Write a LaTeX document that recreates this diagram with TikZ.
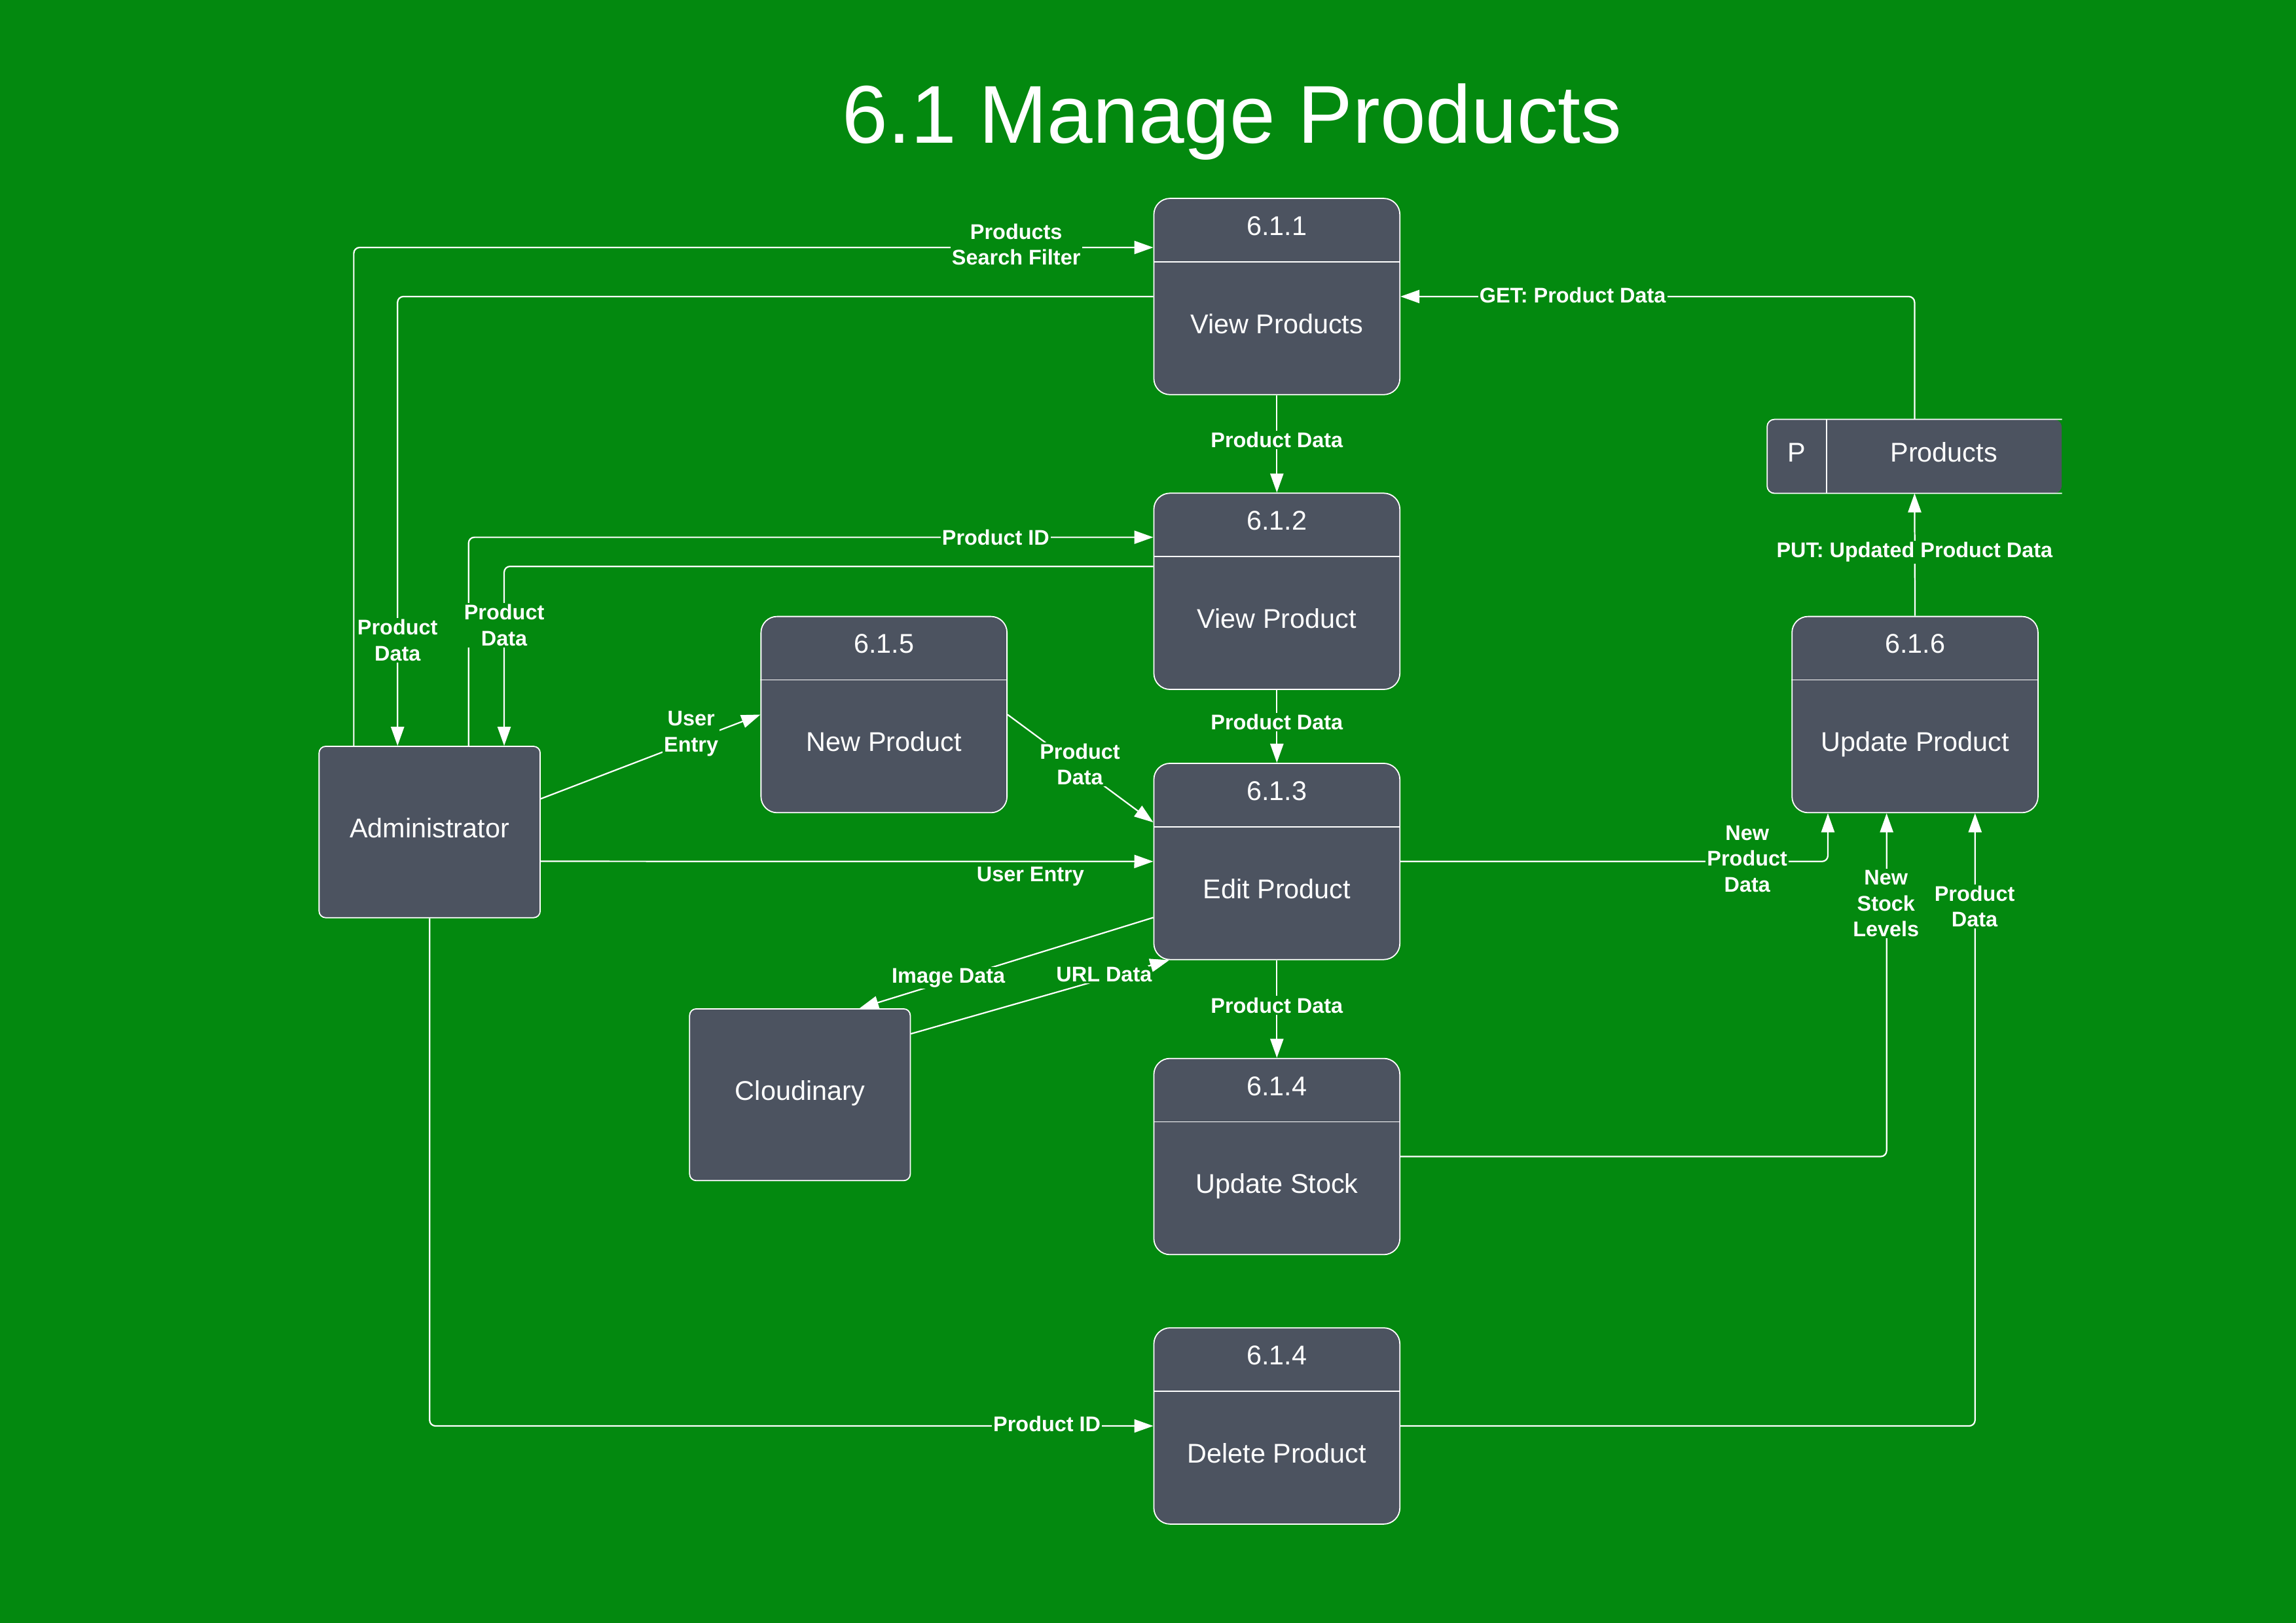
\documentclass[tikz,border=0pt]{standalone}
\usepackage{fontspec}
\setmainfont{Liberation Sans}
\usetikzlibrary{arrows.meta,calc}
\definecolor{bggreen}{RGB}{3,137,15}
\definecolor{boxgray}{RGB}{76,83,96}
\newcommand{\mkproc}[4]{%
  \node[proc] (#1) at (#2) {};
  \draw[divline] ([yshift=-43.7pt]#1.north west) -- ([yshift=-43.7pt]#1.north east);
  \node[boxtxt] (#1num) at ([yshift=-21.85pt]#1.north) {#3};
  \node[boxtxt] (#1name) at ([yshift=-88.85pt]#1.north) {#4};
}
\begin{document}
\begin{tikzpicture}[x=1pt,y=-1pt,
  proc/.style={draw=white, line width=0.8pt, fill=boxgray, rounded corners=11pt,
    minimum width=168pt, minimum height=134pt, inner sep=0pt},
  ext/.style={draw=white, line width=0.8pt, fill=boxgray, rounded corners=4.5pt,
    minimum width=151pt, minimum height=117pt, inner sep=0pt},
  storebox/.style={fill=boxgray, rounded corners=5pt, minimum width=201pt,
    minimum height=50.1pt, inner sep=0pt},
  divline/.style={draw=white, line width=0.8pt},
  boxtxt/.style={text=white, font=\fontsize{18.5}{22}\selectfont, inner sep=0pt,
    text height=0.95em, text depth=0.2em},
  titletxt/.style={text=white, font=\fontsize{56}{60}\selectfont, inner sep=0pt},
  flow/.style={draw=white, line width=1pt, rounded corners=4pt},
  arr/.style={flow, -{Triangle[length=13pt,width=9pt]}},
  lbl/.style={text=white, fill=bggreen, font=\bfseries\fontsize{14.5}{17.6}\selectfont,
    align=center, inner sep=1pt},
]
\fill[bggreen] (0,0) rectangle (1568,1108.37);
\useasboundingbox (0,0) rectangle (1568,1108.37);

\node[titletxt, anchor=base] (title) at (841.5,97.5) {6.1 Manage Products};

% processes
\mkproc{p611}{872,202.5}{6.1.1}{View Products}
\mkproc{p612}{872,403.8}{6.1.2}{View Product}
\mkproc{p613}{872,588.3}{6.1.3}{Edit Product}
\mkproc{p614}{872,789.8}{6.1.4}{Update Stock}
\mkproc{p614d}{872,973.8}{6.1.4}{Delete Product}
\mkproc{p615}{603.7,488}{6.1.5}{New Product}
\mkproc{p616}{1307.8,488}{6.1.6}{Update Product}

% external entities
\node[ext, boxtxt, minimum width=151pt, minimum height=117pt] (admin) at (293.4,568.2) {Administrator};
\node[ext, boxtxt, minimum width=150.7pt, minimum height=117.3pt] (cloud) at (546.3,747.6) {Cloudinary};

% data store
\node[storebox] (store) at (1307.5,311.65) {};
\draw[divline, rounded corners=5pt] (store.north east) -- (store.north west) -- (store.south west) -- (store.south east);
\draw[divline] ([xshift=40.5pt]store.north west) -- ([xshift=40.5pt]store.south west);
\node[boxtxt] (storeid) at ([xshift=20.25pt]store.west) {P};
\node[boxtxt] (storename) at ([xshift=120.75pt]store.west) {Products};

% helper coordinates
\coordinate (urlS) at ([yshift=41.6pt]cloud.east);
\coordinate (urlT) at ([xshift=10.8pt]p613.south west);

% connectors
\draw[arr] ([xshift=-51.8pt]admin.north) |- ([yshift=33.5pt]p611.west);
\draw[arr] (p611.west) -| ([xshift=-21.9pt]admin.north);
\draw[arr] ([xshift=26.6pt]admin.north) |- ([yshift=36.9pt]p612.west);
\draw[arr] ([yshift=17pt]p612.west) -| ([xshift=50.9pt]admin.north);
\draw[arr] (p611.south) -- (p612.north);
\draw[arr] (p612.south) -- (p613.north);
\draw[arr] (p613.south) -- (p614.north);
\draw[arr] (store.north) |- (p611.east);
\draw[arr] (p616.north) -- (store.south);
\draw[arr] ([yshift=22.7pt]admin.east) -- (p615.west);
\draw[arr] (p615.east) -- ([yshift=-40.7pt]p613.north west);
\draw[arr] ([yshift=-20pt]admin.east) -- (p613.west);
\draw[arr] ([yshift=-38.3pt]p613.west) -- ([xshift=40.7pt]cloud.north);
\draw[arr] (urlS) -- (urlT);
\draw[arr] (p613.east) -| ([xshift=-59.5pt]p616.south);
\draw[arr] (p614.east) -| ([xshift=-19.4pt]p616.south);
\draw[arr] (admin.south) |- (p614d.west);
\draw[arr] (p614d.east) -| ([xshift=41pt]p616.south);

% labels
\node[lbl] (lSearch) at (694,167) {Products\\Search Filter};
\node[lbl] (lPDa) at (271.5,437.3) {Product\\Data};
\node[lbl] (lPDb) at (344.3,427) {Product\\Data};
\node[lbl] (lPIDa) at (680,366.9) {Product ID};
\node[lbl] (lPDc) at (872,300.5) {Product Data};
\node[lbl] (lPDd) at (872,493.3) {Product Data};
\node[lbl] (lPDe) at (872,686.5) {Product Data};
\node[lbl] (lGET) at (1074,201.5) {GET: Product Data};
\node[lbl] (lPUT) at (1307.5,377) {PUT: Updated Product Data};
\node[lbl] (lUEa) at (472,501) {User\\Entry};
\node[lbl] (lPDf) at (737.5,522) {Product\\Data};
\node[lbl, fill=none] (lUEb) at (703.7,598.7) {User Entry};
\node[lbl] (lImg) at (647.7,667.7) {Image Data};
\node[lbl] (lURL) at (754,665.5) {URL Data};
\node[lbl] (lNPD) at (1193.2,586.5) {New\\Product\\Data};
\node[lbl] (lNSL) at (1288,617) {New\\Stock\\Levels};
\node[lbl] (lPDg) at (1348.5,619) {Product\\Data};
\node[lbl] (lPIDb) at (715,972.5) {Product ID};

% arrow tip of URL Data re-drawn above its label
\draw[arr] ($(urlS)!0.92!(urlT)$) -- (urlT);
\end{tikzpicture}
\end{document}
